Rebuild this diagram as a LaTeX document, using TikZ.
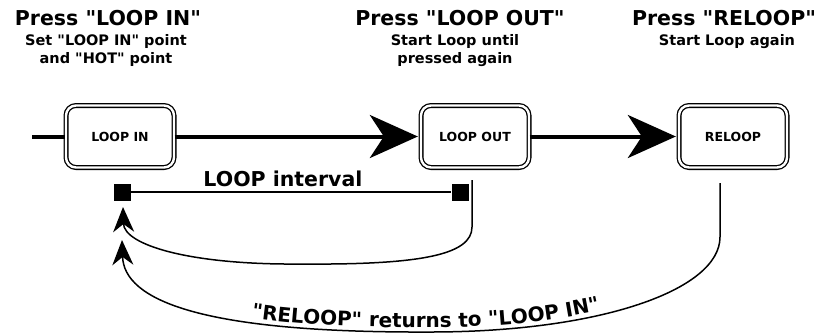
\documentclass[tikz,border=0pt]{standalone}
\usepackage{fontspec}
\newfontfamily\loopfont{DejaVu Sans}
\usetikzlibrary{arrows.meta,decorations.text}

\tikzset{
  btnBox/.style={draw,double,double distance=2.4pt,line width=1.3pt,rounded corners=10pt,
    minimum width=108pt,minimum height=62pt,inner sep=0pt,
    font=\loopfont\bfseries\fontsize{12.5}{14}\selectfont},
  mainArrow/.style={line width=4pt,-{Stealth[length=48pt,width=43pt,inset=14pt]},shorten >=2.5pt},
  backArrow/.style={line width=1.5pt,{Stealth[length=25pt,width=21pt,inset=8pt]}-},
  headTitle/.style={anchor=base,inner sep=0pt,font=\loopfont\bfseries\fontsize{20.5}{24}\selectfont},
  headSub/.style={anchor=north,inner sep=0pt,align=center,font=\loopfont\bfseries\fontsize{14.5}{18}\selectfont},
  endSq/.style={fill=black,minimum size=17pt,inner sep=0pt}
}

\begin{document}
\begin{tikzpicture}[x=1pt,y=-1pt]
\useasboundingbox (0,0) rectangle (822,333);

\node[headTitle] (tIn) at (108,25) {Press "LOOP IN"};
\node[headTitle] (tOut) at (460,25) {Press "LOOP OUT"};
\node[headTitle] (tRe) at (724,25) {Press "RELOOP"};
\node[headSub] (sIn) at (106,34) {Set "LOOP IN" point\\and "HOT" point};
\node[headSub] (sOut) at (455,34) {Start Loop until\\pressed again};
\node[headSub] (sRe) at (727,34) {Start Loop again};

\node[btnBox] (loopin) at (120,136.5) {LOOP IN};
\node[btnBox] (loopout) at (475,136.5) {LOOP OUT};
\node[btnBox] (reloop) at (733,136.5) {RELOOP};

\coordinate (feed) at (32,136.5);
\draw[line width=4pt] (feed) -- (loopin);
\draw[mainArrow] (loopin) -- (loopout);
\draw[mainArrow] (loopout) -- (reloop);

\node[endSq] (sqA) at (122,192) {};
\node[endSq] (sqB) at (460,192) {};
\draw[line width=1.5pt] (sqA) -- node[pos=0.475,above=4pt,inner sep=0pt,
  font=\loopfont\bfseries\fontsize{20.5}{24}\selectfont] (ivLabel) {LOOP interval} (sqB);

\coordinate (outTop) at (472,180);
\coordinate (outBend) at (472,227);
\coordinate (tipA) at (123,207);
\coordinate (botA) at (300,264);
\draw[backArrow] (tipA) .. controls (124,245) and (190,265) .. (botA)
  .. controls (420,265) and (472,255) .. (outBend) -- (outTop);

\coordinate (reTop) at (720,183);
\coordinate (reBend) at (720,237);
\coordinate (tipB) at (122,240);
\coordinate (botB) at (430,332);
\draw[backArrow,postaction={decorate,decoration={text along path,raise=4.5pt,
    text align={left indent=166pt},
    text={|\loopfont\bfseries\fontsize{20}{24}\selectfont|"RELOOP" returns to "LOOP IN"}}}]
  (tipB) .. controls (124,300) and (200,333) .. (botB)
  .. controls (600,332) and (720,290) .. (reBend) -- (reTop);

\end{tikzpicture}
\end{document}
